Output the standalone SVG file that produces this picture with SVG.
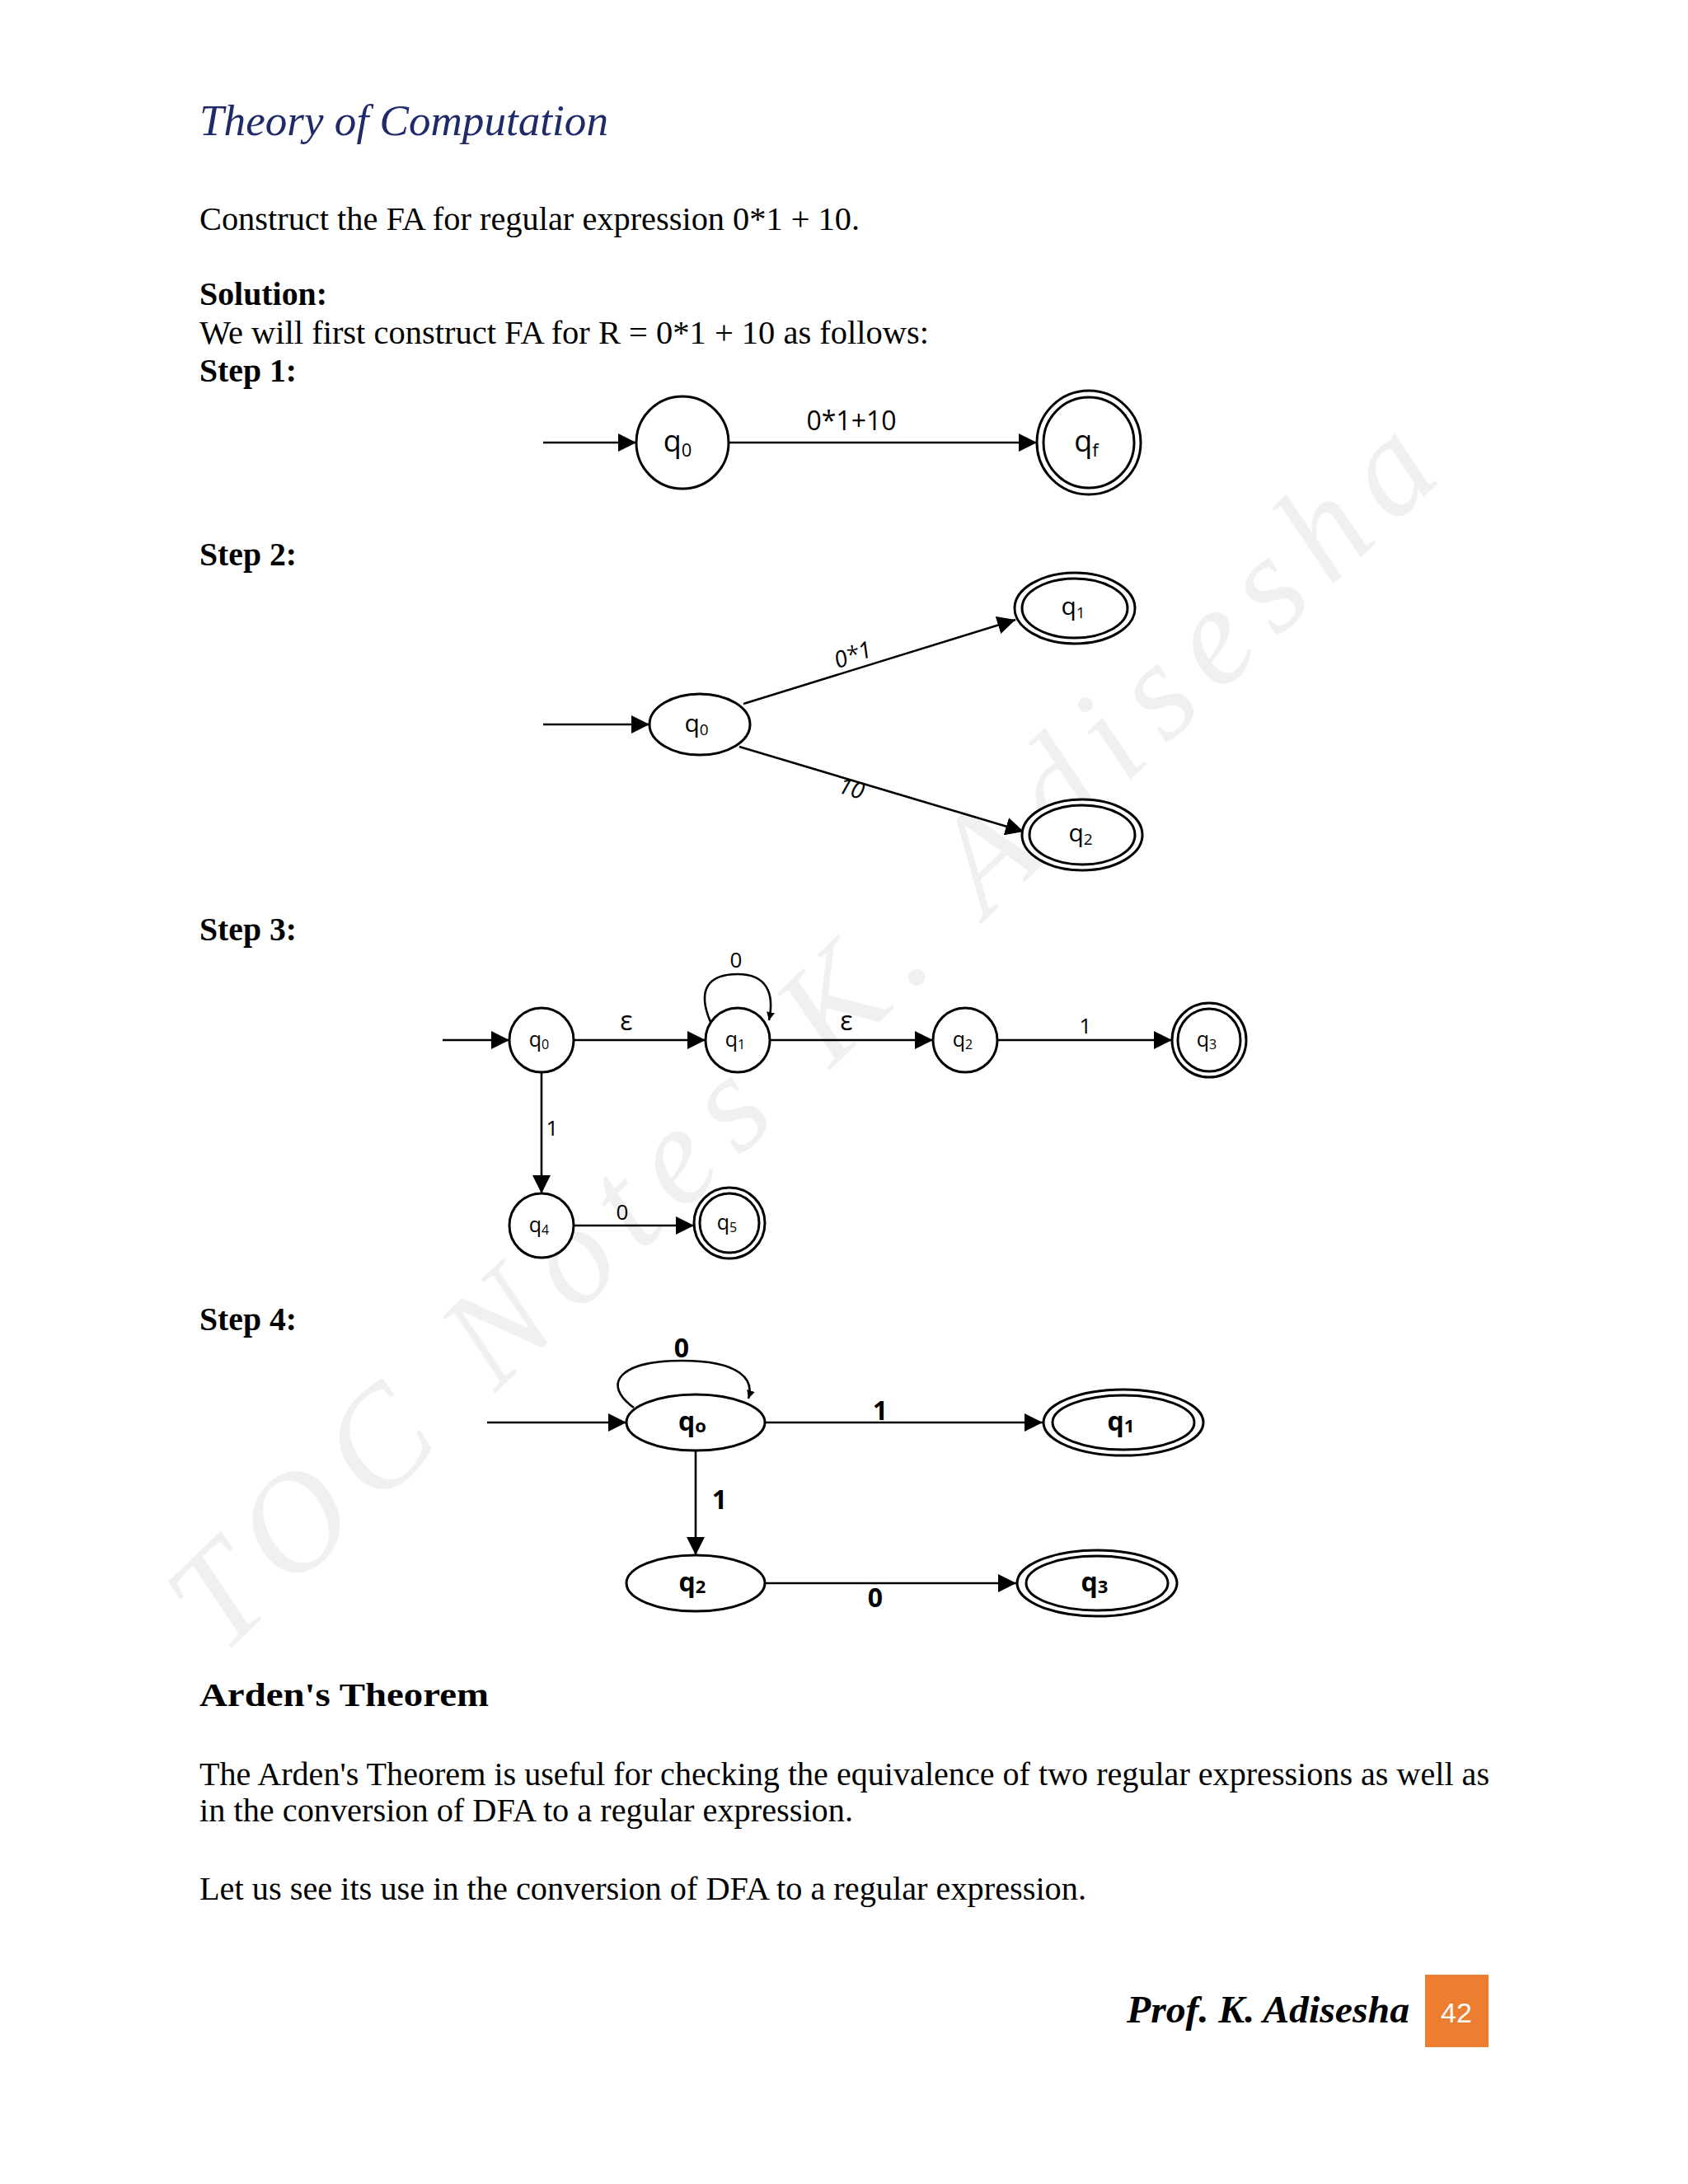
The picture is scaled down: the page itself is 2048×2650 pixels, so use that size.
<svg xmlns="http://www.w3.org/2000/svg" width="2048" height="2650" viewBox="0 0 2048 2650">
<defs>
<marker id="ahb" viewBox="0 0 10 10" refX="10" refY="5" markerWidth="22" markerHeight="22" markerUnits="userSpaceOnUse" orient="auto"><path d="M0,0 L10,5 L0,10 z" fill="#000"/></marker>
<marker id="ahs" viewBox="0 0 10 10" refX="10" refY="5" markerWidth="10" markerHeight="10" markerUnits="userSpaceOnUse" orient="auto"><path d="M0,0 L10,5 L0,10 z" fill="#000"/></marker>
</defs>
<style>
.body{font-family:"Liberation Serif",serif;font-size:39px;fill:#000}
.bold{font-weight:bold}
.n{fill:#fff;stroke:#000;stroke-width:3}
.e{stroke:#000;stroke-width:2.6;fill:none}
.lb{font-family:"Open Sans",sans-serif;fill:#000;text-anchor:middle}
</style>
<rect width="2048" height="2650" fill="#fff"/>
<text x="270" y="2010" transform="rotate(-44 270 2010)" font-family="Liberation Serif,serif" font-style="italic" font-size="170" fill="#f0f0f0" textLength="2060">TOC Notes K. Adisesha</text>

<text x="242" y="164" font-family="Liberation Serif,serif" font-style="italic" font-size="52" fill="#1f2a6b" textLength="496" lengthAdjust="spacingAndGlyphs">Theory of Computation</text>
<text class="body" x="242" y="279" textLength="801" lengthAdjust="spacingAndGlyphs">Construct the FA for regular expression 0*1 + 10.</text>
<text class="body bold" x="242" y="370" textLength="155" lengthAdjust="spacingAndGlyphs">Solution:</text>
<text class="body" x="242" y="417" textLength="885" lengthAdjust="spacingAndGlyphs">We will first construct FA for R = 0*1 + 10 as follows:</text>
<text class="body bold" x="242" y="463" textLength="118" lengthAdjust="spacingAndGlyphs">Step 1:</text>
<text class="body bold" x="242" y="686" textLength="118" lengthAdjust="spacingAndGlyphs">Step 2:</text>
<text class="body bold" x="242" y="1141" textLength="118" lengthAdjust="spacingAndGlyphs">Step 3:</text>
<text class="body bold" x="242" y="1614" textLength="118" lengthAdjust="spacingAndGlyphs">Step 4:</text>

<g id="connectors">
<line class="e" x1="659" y1="537" x2="772" y2="537" marker-end="url(#ahb)"/>
<line class="e" x1="884" y1="537" x2="1258" y2="537" marker-end="url(#ahb)"/>
<line class="e" x1="659" y1="879" x2="788" y2="879" marker-end="url(#ahb)"/>
<line class="e" x1="902" y1="854" x2="1232" y2="752" marker-end="url(#ahb)"/>
<line class="e" x1="897" y1="906" x2="1242" y2="1009" marker-end="url(#ahb)"/>
<line class="e" x1="537" y1="1262" x2="618" y2="1262" marker-end="url(#ahb)"/>
<line class="e" x1="696" y1="1262" x2="856" y2="1262" marker-end="url(#ahb)"/>
<line class="e" x1="934" y1="1262" x2="1132" y2="1262" marker-end="url(#ahb)"/>
<line class="e" x1="1210" y1="1262" x2="1422" y2="1262" marker-end="url(#ahb)"/>
<line class="e" x1="657" y1="1301" x2="657" y2="1448" marker-end="url(#ahb)"/>
<line class="e" x1="696" y1="1487" x2="842" y2="1487" marker-end="url(#ahb)"/>
<path class="e" d="M862,1240 C845,1200 860,1182 895,1182 C930,1182 940,1205 933,1238" marker-end="url(#ahs)"/>
<line class="e" x1="591" y1="1726" x2="760" y2="1726" marker-end="url(#ahb)"/>
<line class="e" x1="928" y1="1726" x2="1265" y2="1726" marker-end="url(#ahb)"/>
<line class="e" x1="844" y1="1760" x2="844" y2="1887" marker-end="url(#ahb)"/>
<line class="e" x1="928" y1="1921" x2="1233" y2="1921" marker-end="url(#ahb)"/>
<path class="e" d="M769,1708 C730,1680 750,1651 827,1651 C900,1651 915,1675 908,1697" marker-end="url(#ahs)"/>
</g>

<g id="labels">
<text class="lb" x="1033" y="522" font-size="32">0*1+10</text>
<text class="lb" x="1036" y="804" font-size="28" font-style="italic" transform="rotate(-20 1036 798)">0*1</text>
<text class="lb" x="1032" y="966" font-size="28" font-style="italic" transform="rotate(17 1032 960)">10</text>
<text class="lb" x="760" y="1250" font-size="32">ε</text>
<text class="lb" x="1027" y="1250" font-size="32">ε</text>
<text class="lb" x="1317" y="1254" font-size="26">1</text>
<text class="lb" x="893" y="1174" font-size="26">0</text>
<text class="lb" x="670" y="1378" font-size="26">1</text>
<text class="lb" x="755" y="1480" font-size="26">0</text>
<text class="lb" x="827" y="1647" font-size="32" font-weight="bold">0</text>
<text class="lb" x="1068" y="1723" font-size="32" font-weight="bold">1</text>
<text class="lb" x="873" y="1831" font-size="32" font-weight="bold">1</text>
<text class="lb" x="1062" y="1950" font-size="32" font-weight="bold">0</text>
</g>

<g id="s1q0"><circle class="n" cx="828" cy="537" r="56"/><text class="lb" x="822" y="548" font-size="36">q<tspan font-size="22" dy="6">0</tspan></text></g>
<g id="s1qf"><circle class="n" cx="1321" cy="537" r="63"/><circle class="n" cx="1321" cy="537" r="55"/><text class="lb" x="1318" y="548" font-size="36">q<tspan font-size="22" dy="6">f</tspan></text></g>

<g id="s2q0"><ellipse class="n" cx="849" cy="879" rx="61" ry="37"/><text class="lb" x="845" y="888" font-size="30">q<tspan font-size="19" dy="4">0</tspan></text></g>
<g id="s2q1"><ellipse class="n" cx="1304" cy="738" rx="73" ry="43"/><ellipse class="n" cx="1304" cy="738" rx="64" ry="36"/><text class="lb" x="1302" y="746" font-size="30">q<tspan font-size="19" dy="4">1</tspan></text></g>
<g id="s2q2"><ellipse class="n" cx="1313" cy="1013" rx="73" ry="43"/><ellipse class="n" cx="1313" cy="1013" rx="64" ry="36"/><text class="lb" x="1311" y="1021" font-size="30">q<tspan font-size="19" dy="4">2</tspan></text></g>

<g id="s3q0"><circle class="n" cx="657" cy="1262" r="39" stroke-width="2.2"/><text class="lb" x="654" y="1270" font-size="25">q<tspan font-size="16" dy="3">0</tspan></text></g>
<g id="s3q1"><circle class="n" cx="895" cy="1262" r="39" stroke-width="2.2"/><text class="lb" x="892" y="1270" font-size="25">q<tspan font-size="16" dy="3">1</tspan></text></g>
<g id="s3q2"><circle class="n" cx="1171" cy="1262" r="39" stroke-width="2.2"/><text class="lb" x="1168" y="1270" font-size="25">q<tspan font-size="16" dy="3">2</tspan></text></g>
<g id="s3q3"><circle class="n" cx="1467" cy="1262" r="45" stroke-width="2.2"/><circle class="n" cx="1467" cy="1262" r="38" stroke-width="2.2"/><text class="lb" x="1464" y="1270" font-size="25">q<tspan font-size="16" dy="3">3</tspan></text></g>
<g id="s3q4"><circle class="n" cx="657" cy="1487" r="39" stroke-width="2.2"/><text class="lb" x="654" y="1495" font-size="25">q<tspan font-size="16" dy="3">4</tspan></text></g>
<g id="s3q5"><circle class="n" cx="885" cy="1484" r="43" stroke-width="2.2"/><circle class="n" cx="885" cy="1484" r="36" stroke-width="2.2"/><text class="lb" x="882" y="1492" font-size="25">q<tspan font-size="16" dy="3">5</tspan></text></g>

<g id="s4q0"><ellipse class="n" cx="844" cy="1726" rx="84" ry="34"/><text class="lb" x="840" y="1736" font-size="32" font-weight="bold">q<tspan font-size="22" dy="2">o</tspan></text></g>
<g id="s4q1"><ellipse class="n" cx="1363" cy="1726" rx="97" ry="40"/><ellipse class="n" cx="1363" cy="1726" rx="86" ry="33"/><text class="lb" x="1360" y="1736" font-size="32" font-weight="bold">q<tspan font-size="22" dy="2">1</tspan></text></g>
<g id="s4q2"><ellipse class="n" cx="844" cy="1921" rx="84" ry="34"/><text class="lb" x="840" y="1931" font-size="32" font-weight="bold">q<tspan font-size="22" dy="2">2</tspan></text></g>
<g id="s4q3"><ellipse class="n" cx="1331" cy="1921" rx="97" ry="40"/><ellipse class="n" cx="1331" cy="1921" rx="86" ry="33"/><text class="lb" x="1328" y="1931" font-size="32" font-weight="bold">q<tspan font-size="22" dy="2">3</tspan></text></g>

<text class="body bold" x="242" y="2070" font-size="46" textLength="351" lengthAdjust="spacingAndGlyphs">Arden's Theorem</text>
<text class="body" x="242" y="2166" textLength="1565" lengthAdjust="spacingAndGlyphs">The Arden's Theorem is useful for checking the equivalence of two regular expressions as well as</text>
<text class="body" x="242" y="2210" textLength="793" lengthAdjust="spacingAndGlyphs">in the conversion of DFA to a regular expression.</text>
<text class="body" x="242" y="2305" textLength="1076" lengthAdjust="spacingAndGlyphs">Let us see its use in the conversion of DFA to a regular expression.</text>

<text x="1367" y="2454" font-family="Liberation Serif,serif" font-style="italic" font-weight="bold" font-size="46" fill="#000" textLength="343" lengthAdjust="spacingAndGlyphs">Prof. K. Adisesha</text>
<rect x="1729" y="2396" width="77" height="88" fill="#ed7d31"/>
<text x="1767" y="2454" text-anchor="middle" font-family="Liberation Sans,sans-serif" font-size="34" fill="#fff">42</text>
</svg>
